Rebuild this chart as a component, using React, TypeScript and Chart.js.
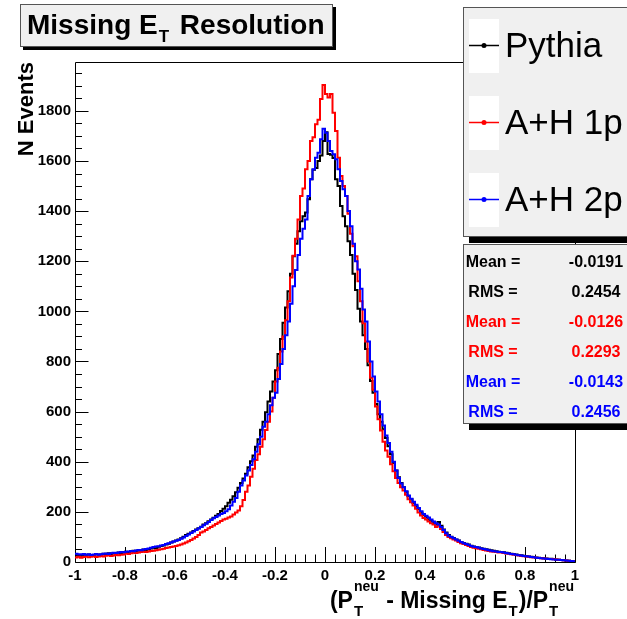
import React, { useEffect, useRef } from 'react';
import { Chart, registerables } from 'chart.js';

Chart.register(...registerables);

const X_MIN = -1;
const X_MAX = 1;
const N_BINS = 200;
const Y_MAX = 1995;

const xTickValues = [-1, -0.8, -0.6, -0.4, -0.2, 0, 0.2, 0.4, 0.6, 0.8, 1];
const xTickLabels = ['-1', '-0.8', '-0.6', '-0.4', '-0.2', '0', '0.2', '0.4', '0.6', '0.8', '1'];
const yTickValues = [0, 200, 400, 600, 800, 1000, 1200, 1400, 1600, 1800];

// Pythia (black), 200 bins from -1 to 1
const pythia = [
  26, 28, 25, 29, 27, 30, 28, 26, 31, 29,
  30, 33, 31, 35, 32, 36, 34, 38, 36, 39,
  41, 38, 43, 45, 42, 47, 46, 50, 48, 52,
  54, 57, 55, 61, 64, 66, 70, 73, 78, 82,
  86, 90, 95, 101, 108, 113, 118, 124, 130, 135,
  141, 150, 155, 163, 170, 177, 185, 192, 203, 212,
  222, 236, 248, 262, 278, 296, 315, 333, 352, 378,
  402, 425, 460, 490, 528, 560, 598, 640, 680, 720,
  765, 830, 890, 955, 1015, 1080, 1150, 1220, 1270, 1320,
  1360, 1380, 1395, 1447, 1527, 1565, 1572, 1600, 1622, 1680,
  1715, 1628, 1625, 1612, 1527, 1500, 1420, 1380, 1340, 1280,
  1225, 1150, 1085, 1010, 960, 905, 850, 785, 722, 675,
  630, 590, 560, 530, 495, 462, 430, 395, 365, 338,
  315, 298, 280, 262, 250, 235, 222, 210, 198, 188,
  180, 170, 165, 156, 150, 160, 145, 130, 118, 108,
  101, 96, 90, 86, 80, 76, 73, 70, 65, 62,
  60, 58, 55, 53, 51, 49, 47, 45, 43, 41,
  40, 39, 37, 35, 33, 32, 30, 28, 27, 25,
  24, 22, 21, 20, 18, 17, 16, 15, 14, 13,
  13, 12, 10, 9, 8, 7, 6, 5, 4, 3,
];

// A+H 1p (red)
const ah1p = [
  18, 21, 17, 20, 22, 19, 21, 23, 20, 22,
  24, 22, 25, 27, 24, 26, 28, 27, 29, 30,
  34, 32, 35, 37, 36, 38, 40, 41, 40, 42,
  44, 45, 47, 49, 51, 53, 56, 58, 60, 62,
  64, 67, 70, 74, 78, 83, 88, 94, 100, 108,
  118, 122, 128, 135, 140, 146, 152, 158, 164, 170,
  173, 178, 182, 190, 198, 205, 222, 247, 280, 305,
  340, 372, 407, 430, 460, 490, 527, 560, 600, 655,
  720, 775, 840, 900, 965, 1040, 1135, 1222, 1290, 1367,
  1460, 1490, 1567, 1600, 1680, 1695, 1747, 1765, 1847, 1903,
  1867, 1853, 1867, 1793, 1720, 1613, 1540, 1500, 1460, 1390,
  1310, 1260, 1220, 1120, 1040, 953, 880, 800, 735, 687,
  620, 570, 525, 480, 445, 420, 390, 362, 335, 315,
  298, 285, 268, 250, 238, 225, 212, 198, 186, 176,
  170, 162, 155, 150, 140, 145, 132, 120, 108, 100,
  95, 90, 86, 80, 75, 72, 68, 64, 60, 57,
  55, 53, 51, 48, 46, 44, 42, 41, 40, 38,
  38, 36, 34, 33, 31, 29, 28, 26, 24, 23,
  22, 21, 19, 18, 17, 16, 15, 14, 13, 12,
  12, 11, 10, 9, 8, 7, 6, 5, 4, 3,
];

// A+H 2p (blue)
const ah2p = [
  33, 31, 30, 32, 29, 31, 28, 30, 32, 29,
  31, 33, 34, 32, 35, 37, 36, 38, 40, 39,
  41, 42, 44, 43, 46, 48, 47, 50, 52, 54,
  57, 60, 62, 63, 66, 68, 72, 75, 78, 82,
  85, 88, 93, 98, 104, 110, 116, 122, 128, 134,
  140, 147, 153, 160, 168, 175, 180, 186, 192, 196,
  202, 210, 225, 240, 255, 280, 305, 325, 345, 365,
  387, 410, 440, 470, 500, 540, 560, 590, 625, 655,
  675, 730, 790, 850, 905, 960, 1030, 1100, 1165, 1225,
  1290, 1330, 1367, 1460, 1527, 1567, 1613, 1633, 1687, 1729,
  1713, 1680, 1640, 1627, 1607, 1567, 1520, 1487, 1460, 1400,
  1340, 1270, 1200, 1167, 1090, 1007, 960, 880, 800, 740,
  680, 640, 590, 545, 505, 475, 440, 400, 365, 335,
  313, 298, 282, 265, 252, 240, 228, 215, 202, 192,
  185, 178, 170, 162, 155, 150, 140, 128, 115, 105,
  100, 95, 90, 85, 80, 75, 72, 68, 64, 61,
  60, 57, 54, 52, 50, 47, 45, 43, 42, 40,
  40, 38, 36, 34, 32, 31, 29, 27, 26, 24,
  23, 22, 20, 19, 17, 16, 15, 14, 13, 12,
  11, 10, 9, 9, 8, 7, 6, 5, 4, 3,
];

const seriesLabels = ['Pythia', 'A+H 1p', 'A+H 2p'];
const seriesColors = ['#000000', '#ff0000', '#0000ff'];
const meanValues = ['-0.0191', '-0.0126', '-0.0143'];
const rmsValues = ['0.2454', '0.2293', '0.2456'];

const FONT = '"Liberation Sans", Arial, Helvetica, sans-serif';
const BOX_FILL = '#f0f0f0';
const BOX_LINE = '#555555';

function toSteps(values: number[]) {
  const w = (X_MAX - X_MIN) / N_BINS;
  const pts = values.map((v, i) => ({ x: X_MIN + i * w, y: v }));
  pts.push({ x: X_MAX, y: values[values.length - 1] });
  return pts;
}

function drawBox(ctx: CanvasRenderingContext2D, x: number, y: number, w: number, h: number, shadow: number) {
  ctx.fillStyle = '#000';
  ctx.fillRect(x + shadow, y + h, w, shadow);
  ctx.fillRect(x + w, y + shadow, shadow, h);
  ctx.fillStyle = BOX_FILL;
  ctx.fillRect(x, y, w, h);
  ctx.strokeStyle = BOX_LINE;
  ctx.lineWidth = 1;
  ctx.strokeRect(x + 0.5, y + 0.5, w - 1, h - 1);
}

const rootDecor = {
  id: 'rootDecor',
  beforeDatasetsDraw(chart: any) {
    const { ctx, chartArea: a } = chart;
    const xs = chart.scales.x;
    const ys = chart.scales.y;
    ctx.save();
    ctx.strokeStyle = '#000';
    ctx.lineWidth = 1;
    const L = Math.round(a.left) + 0.5;
    const T = Math.round(a.top) + 0.5;
    const R = Math.round(a.right) + 0.5;
    const B = Math.round(a.bottom) + 0.5;
    ctx.beginPath();
    ctx.rect(L, T, R - L, B - T);
    // x ticks: major every 0.2, minor every 0.04
    for (let k = 0; k <= 50; k++) {
      const v = X_MIN + k * 0.04;
      const px = Math.round(xs.getPixelForValue(v)) + 0.5;
      const major = k % 5 === 0;
      ctx.moveTo(px, B);
      ctx.lineTo(px, B - (major ? 15.5 : 8));
    }
    // y ticks: major every 200, minor every 50
    for (let v = 0; v <= Y_MAX; v += 50) {
      const py = Math.round(ys.getPixelForValue(v)) + 0.5;
      const major = v % 200 === 0;
      ctx.moveTo(L, py);
      ctx.lineTo(L + (major ? 13 : 6.5), py);
    }
    ctx.stroke();
    ctx.restore();
  },
  afterDraw(chart: any) {
    const { ctx } = chart;
    ctx.save();

    // Title box
    drawBox(ctx, 20, 4, 313, 43, 3);
    ctx.fillStyle = '#000';
    ctx.textBaseline = 'alphabetic';
    ctx.textAlign = 'left';
    ctx.font = `bold 28px ${FONT}`;
    const t1 = 'Missing E';
    ctx.fillText(t1, 27, 33.5);
    let tx = 27 + ctx.measureText(t1).width + 1;
    ctx.font = `bold 17px ${FONT}`;
    ctx.fillText('T', tx, 42);
    tx += ctx.measureText('T').width;
    ctx.font = `bold 28px ${FONT}`;
    ctx.fillText(' Resolution', tx + 3, 33.5);

    // Legend box
    drawBox(ctx, 463, 7, 200, 230, 6);
    seriesLabels.forEach((lab, k) => {
      const cy = 45 + k * 77;
      ctx.fillStyle = '#ffffff';
      ctx.fillRect(469, cy - 26, 30, 54);
      ctx.strokeStyle = seriesColors[k];
      ctx.lineWidth = 1.5;
      ctx.beginPath();
      ctx.moveTo(469, cy + 0.5);
      ctx.lineTo(499, cy + 0.5);
      ctx.stroke();
      ctx.fillStyle = seriesColors[k];
      ctx.beginPath();
      ctx.arc(484, cy + 0.5, 2.5, 0, Math.PI * 2);
      ctx.fill();
      ctx.fillStyle = '#000';
      ctx.font = `35px ${FONT}`;
      ctx.textAlign = 'left';
      ctx.fillText(lab, 505, cy + 12);
    });

    // Stats box
    drawBox(ctx, 463, 244, 200, 180, 6);
    ctx.font = `bold 16px ${FONT}`;
    ctx.textAlign = 'center';
    for (let k = 0; k < 3; k++) {
      ctx.fillStyle = seriesColors[k];
      const y1 = 267 + k * 60;
      const y2 = y1 + 30;
      ctx.fillText('Mean =', 493, y1);
      ctx.fillText(meanValues[k], 596, y1);
      ctx.fillText('RMS =', 493, y2);
      ctx.fillText(rmsValues[k], 596, y2);
    }

    // Y axis title
    ctx.fillStyle = '#000';
    ctx.save();
    ctx.translate(33, 62);
    ctx.rotate(-Math.PI / 2);
    ctx.textAlign = 'right';
    ctx.font = `bold 22px ${FONT}`;
    ctx.fillText('N Events', 0, 0);
    ctx.restore();

    // X axis title: (P_T^neu - Missing E_T)/P_T^neu
    const mainF = `bold 23px ${FONT}`;
    const supF = `bold 14px ${FONT}`;
    const subF = `bold 15px ${FONT}`;
    const baseY = 608;
    const supY = 591;
    const subY = 616;
    type Piece = { kind: 'main' | 'stack' | 'sub'; text?: string; sup?: string; sub?: string };
    const pieces: Piece[] = [
      { kind: 'main', text: '(P' },
      { kind: 'stack', sup: 'neu', sub: 'T' },
      { kind: 'main', text: ' - Missing E' },
      { kind: 'sub', text: 'T' },
      { kind: 'main', text: ')/P' },
      { kind: 'stack', sup: 'neu', sub: 'T' },
    ];
    const widthOf = (p: Piece) => {
      if (p.kind === 'main') { ctx.font = mainF; return ctx.measureText(p.text!).width; }
      if (p.kind === 'sub') { ctx.font = subF; return ctx.measureText(p.text!).width + 2; }
      ctx.font = supF; const a = ctx.measureText(p.sup!).width;
      ctx.font = subF; const b = ctx.measureText(p.sub!).width;
      return Math.max(a, b) + 2;
    };
    const total = pieces.reduce((s, p) => s + widthOf(p), 0);
    let cx = 575 - total;
    ctx.textAlign = 'left';
    pieces.forEach((p) => {
      const w = widthOf(p);
      if (p.kind === 'main') { ctx.font = mainF; ctx.fillText(p.text!, cx, baseY); }
      else if (p.kind === 'sub') { ctx.font = subF; ctx.fillText(p.text!, cx + 1, subY); }
      else {
        ctx.font = supF; ctx.fillText(p.sup!, cx + 1, supY);
        ctx.font = subF; ctx.fillText(p.sub!, cx + 1, subY);
      }
      cx += w;
    });

    ctx.restore();
  },
};

export default function App() {
  const ref = useRef<HTMLCanvasElement | null>(null);

  useEffect(() => {
    if (!ref.current) return;
    const allSeries = [pythia, ah1p, ah2p];
    const chart = new Chart(ref.current, {
      type: 'line',
      data: {
        datasets: allSeries.map((vals, k) => ({
          label: seriesLabels[k],
          data: toSteps(vals),
          borderColor: seriesColors[k],
          backgroundColor: seriesColors[k],
          borderWidth: 2,
          pointRadius: 0,
          stepped: 'before' as const,
          fill: false,
          tension: 0,
          order: 2 - k,
        })),
      },
      options: {
        animation: false,
        responsive: false,
        devicePixelRatio: 1,
        layout: { padding: { top: 62, right: 52, left: 0, bottom: 0 } },
        plugins: {
          legend: { display: false },
          tooltip: { enabled: false },
          title: { display: false },
        },
        scales: {
          x: {
            type: 'linear',
            min: X_MIN,
            max: X_MAX,
            afterBuildTicks: (s: any) => { s.ticks = xTickValues.map((v) => ({ value: v })); },
            afterFit: (s: any) => { s.height = 57; },
            ticks: {
              autoSkip: false,
              maxRotation: 0,
              padding: 5,
              color: '#000',
              font: { family: FONT, size: 15, weight: 'bold' },
              callback: (v: any) => {
                const idx = xTickValues.findIndex((t) => Math.abs(t - Number(v)) < 1e-9);
                return idx >= 0 ? xTickLabels[idx] : '';
              },
            },
            grid: { display: false, drawTicks: false },
            border: { display: false },
          },
          y: {
            type: 'linear',
            min: 0,
            max: Y_MAX,
            afterBuildTicks: (s: any) => { s.ticks = yTickValues.map((v) => ({ value: v })); },
            afterFit: (s: any) => { s.width = 75; },
            ticks: {
              autoSkip: false,
              padding: 4,
              color: '#000',
              font: { family: FONT, size: 15, weight: 'bold' },
              callback: (v: any) => String(v),
            },
            grid: { display: false, drawTicks: false },
            border: { display: false },
          },
        },
      },
      plugins: [rootDecor],
    } as any);
    return () => chart.destroy();
  }, []);

  return (
    <div style={{ position: 'fixed', left: 0, top: 0, width: 627, height: 619, background: '#fff' }}>
      <canvas ref={ref} width={627} height={619} style={{ display: 'block' }} />
    </div>
  );
}
